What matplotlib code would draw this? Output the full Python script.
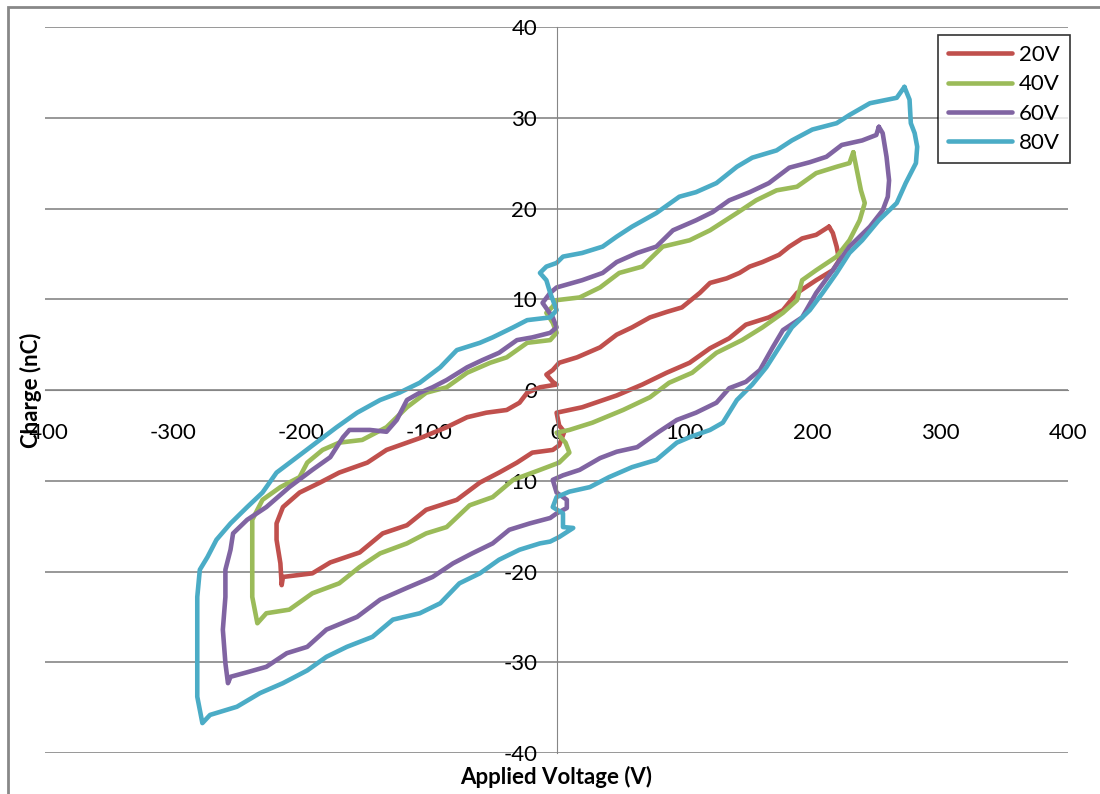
import matplotlib.pyplot as plt
from matplotlib.patches import Rectangle

# hysteresis loops, charge (nC) vs applied voltage (V), one closed path per drive level
v20 = [213, 203, 192, 182, 174, 161, 151, 143, 133, 120, 112, 98, 86, 73, 59, 47, 34, 16, 2, -3, -8, -3, 0,
       -13, -23, -29, -39, -55, -70, -86, -105, -117, -133, -148, -170, -185, -201, -214, -219, -219, -216, -215,
       -214, -191, -177, -154, -136, -117, -102, -78, -60, -45, -31, -19, -3, 2, 6, 2, 0,
       20, 47, 67, 86, 104, 120, 135, 148, 166, 177, 188, 203, 216, 221, 219, 216, 213]
q20 = [18.0, 17.1, 16.7, 15.8, 14.9, 14.1, 13.6, 12.9, 12.3, 11.8, 10.7, 9.1, 8.6, 8.0, 6.9, 6.1, 4.7, 3.6, 3.0, 2.2, 1.7, 0.9, 0.6,
       0.3, -0.3, -1.4, -2.2, -2.5, -3.0, -4.1, -5.2, -5.8, -6.6, -8.0, -9.1, -10.2, -11.3, -12.9, -14.7, -16.5, -19.1, -21.5,
       -20.6, -20.2, -19.0, -17.9, -15.8, -14.9, -13.2, -12.1, -10.2, -9.1, -8.0, -6.9, -6.6, -6.1, -4.6, -3.9, -2.5,
       -1.9, -0.6, 0.6, 1.9, 3.0, 4.6, 5.7, 7.2, 8.0, 8.8, 10.7, 12.1, 13.2, 14.3, 15.8, 17.3, 18.0]

v40 = [232, 238, 241, 237, 229, 219, 203, 192, 188, 177, 161, 145, 125, 106, 88, 73, 52, 28, 10, 0,
       7, 10, 2, -13, -34, -50, -68, -86, -102, -117, -138, -154, -170, -191, -209, -227, -234,
       -238, -238, -238, -238, -230, -216, -201, -195, -183, -170, -152, -133, -117, -102, -86, -70, -52, -39, -23, -5, 0,
       -3, -8, -3, 0, 18, 34, 49, 67, 83, 104, 120, 141, 156, 172, 188, 203, 219, 229, 232]
q40 = [26.2, 22.0, 20.6, 18.7, 16.5, 14.7, 13.2, 12.1, 9.9, 8.5, 6.9, 5.5, 4.1, 1.9, 0.8, -0.8, -2.2, -3.6, -4.4, -4.7,
       -5.8, -6.9, -8.0, -8.8, -9.9, -11.8, -12.7, -15.1, -15.8, -16.9, -18.0, -19.5, -21.3, -22.4, -24.2, -24.6, -25.7,
       -22.8, -19.1, -15.4, -14.3, -12.1, -10.7, -9.6, -8.0, -6.6, -5.8, -5.5, -4.1, -1.9, -0.3, 0.3, 1.9, 3.0, 3.6, 5.2, 5.5, 6.3,
       7.4, 8.5, 9.2, 9.9, 10.2, 11.3, 12.9, 13.6, 15.8, 16.5, 17.6, 19.5, 20.9, 22.0, 22.4, 23.9, 24.6, 25.0, 26.2]

v60 = [252, 255, 258, 260, 259, 255, 245, 229, 216, 203, 192, 177, 169, 159, 148, 135, 125, 109, 94, 80, 63, 47, 34, 18, 5, -3,
       0, 8, 8, 0, -5, -21, -37, -50, -66, -81, -97, -117, -138, -156, -180, -195, -211, -227, -242, -255, -257,
       -259, -261, -259, -259, -255, -253, -242, -227, -209, -191, -177, -167, -162, -146, -133, -125, -117, -107, -97, -86,
       -70, -58, -45, -31, -19, -5, 0, -3, -11, -5, 0, 20, 36, 47, 63, 78, 91, 109, 122, 135, 151, 166, 182, 198, 211,
       223, 239, 250, 252]
q60 = [29.0, 28.3, 25.7, 23.1, 21.3, 19.8, 18.0, 15.8, 13.2, 10.7, 8.0, 6.6, 4.7, 2.2, 0.9, 0.2, -1.4, -2.5, -3.3, -4.6, -6.3, -6.8, -7.5, -8.8, -9.4, -9.9,
       -11.3, -12.1, -13.0, -13.6, -14.1, -14.7, -15.4, -16.9, -18.0, -19.1, -20.6, -21.8, -23.1, -25.0, -26.4, -28.3, -29.0, -30.5, -31.1, -31.6, -32.3,
       -30.1, -26.4, -22.8, -19.8, -17.6, -15.8, -14.3, -12.9, -10.7, -8.8, -7.4, -5.2, -4.4, -4.4, -4.6, -3.3, -1.1, -0.3, 0.3, 1.1,
       2.5, 3.3, 4.1, 5.5, 5.8, 6.3, 6.9, 8.0, 9.6, 10.7, 11.3, 12.1, 12.9, 14.1, 15.1, 15.8, 17.6, 18.7, 19.6, 20.9, 21.8, 22.8, 24.5, 25.1, 25.7,
       27.0, 27.5, 28.1, 29.0]

v80 = [272, 276, 277, 280, 282, 281, 273, 266, 252, 239, 229, 219, 208, 198, 184, 174, 164, 153, 141, 130, 120, 104, 94, 78, 59, 41, 26, 10, 0,
       -3, 5, 5, 13, 2, -5, -13, -29, -45, -60, -76, -91, -107, -128, -144, -164, -180, -195, -214, -232, -250, -271, -277,
       -281, -281, -281, -281, -279, -273, -266, -255, -242, -230, -219, -203, -188, -172, -156, -138, -123, -107, -91, -78,
       -60, -50, -34, -23, -5, 0, -5, -8, -13, -8, 0, 5, 20, 36, 47, 59, 78, 96, 109, 125, 141, 153, 172, 184, 200, 219,
       229, 245, 266, 272]
q80 = [33.4, 32.0, 29.4, 28.3, 26.8, 25.0, 22.8, 20.6, 18.7, 16.5, 15.1, 12.9, 10.7, 8.8, 6.9, 4.7, 2.5, 0.6, -1.1, -3.6, -4.4, -5.2, -5.8, -7.7, -8.5, -9.6, -10.7, -11.2, -11.8,
       -12.9, -13.6, -15.1, -15.2, -16.2, -16.7, -16.9, -17.6, -18.7, -20.2, -21.3, -23.5, -24.6, -25.3, -27.2, -28.3, -29.4, -30.9, -32.3, -33.4, -34.9, -35.8, -36.7,
       -33.8, -30.1, -26.4, -22.8, -19.8, -18.4, -16.5, -14.7, -12.9, -11.3, -9.1, -7.4, -5.8, -4.1, -2.5, -1.1, -0.3, 0.8, 2.5, 4.4,
       5.2, 5.8, 6.9, 7.7, 8.0, 8.8, 10.7, 12.1, 12.9, 13.6, 14.0, 14.7, 15.1, 15.8, 16.9, 18.0, 19.5, 21.3, 21.8, 22.8, 24.6, 25.6, 26.4, 27.5, 28.7, 29.4,
       30.3, 31.6, 32.2, 33.4]

series = [("20V", v20, q20, "#C0504D"),
          ("40V", v40, q40, "#9BBB59"),
          ("60V", v60, q60, "#8064A2"),
          ("80V", v80, q80, "#4BACC6")]

x_ticks = [-400, -300, -200, -100, 0, 100, 200, 300, 400]
y_ticks = [-40, -30, -20, -10, 0, 10, 20, 30, 40]

plt.rcParams['font.family'] = ['Lato', 'DejaVu Sans']

fig = plt.figure(figsize=(11, 7.94), dpi=100)
ax = fig.add_axes([0.041, 0.0516, 0.93, 0.9144])

for name, v, q, c in series:
    ax.plot(v, q, color=c, lw=3.3, label=name, solid_joinstyle='round', solid_capstyle='round')

ax.set_xlim(-400, 400)
ax.set_ylim(-40, 40)
ax.set_xticks(x_ticks)
ax.set_yticks(y_ticks)
ax.set_xticklabels([str(t) for t in x_ticks])
ax.set_yticklabels([str(t) for t in y_ticks])

# axes cross at the origin, excel style
ax.spines['left'].set_position(('data', 0))
ax.spines['bottom'].set_position(('data', 0))
ax.spines['right'].set_visible(False)
ax.spines['top'].set_visible(False)
ax.spines['left'].set_color('#868686')
ax.spines['bottom'].set_color('#868686')
ax.grid(axis='y', color='#868686', lw=1.2)
ax.set_axisbelow(True)

ax.tick_params(axis='x', length=0, pad=24, labelsize=16, colors='black')
ax.tick_params(axis='y', length=0, pad=14, labelsize=16, colors='black')

fig.text(0.506, 0.022, "Applied Voltage (V)", ha='center', va='center', fontsize=16, fontweight='bold')
fig.text(0.028, 0.509, "Charge (nC)", ha='center', va='center', rotation=90, fontsize=16, fontweight='bold')

leg = ax.legend(loc='upper right', bbox_to_anchor=(1.002, 0.989), borderaxespad=0, fontsize=16, frameon=True,
                fancybox=False, edgecolor='black', handlelength=2.9, labelspacing=0.42, borderpad=0.45,
                handletextpad=0.3)
leg.get_frame().set_linewidth(1.2)

# chart area border
fig.patches.append(Rectangle((0.0073, -0.1), 1.2, 0.1 + 0.991, transform=fig.transFigure,
                             fill=False, edgecolor='#888888', lw=2))

fig.savefig("out.png", dpi=100)
